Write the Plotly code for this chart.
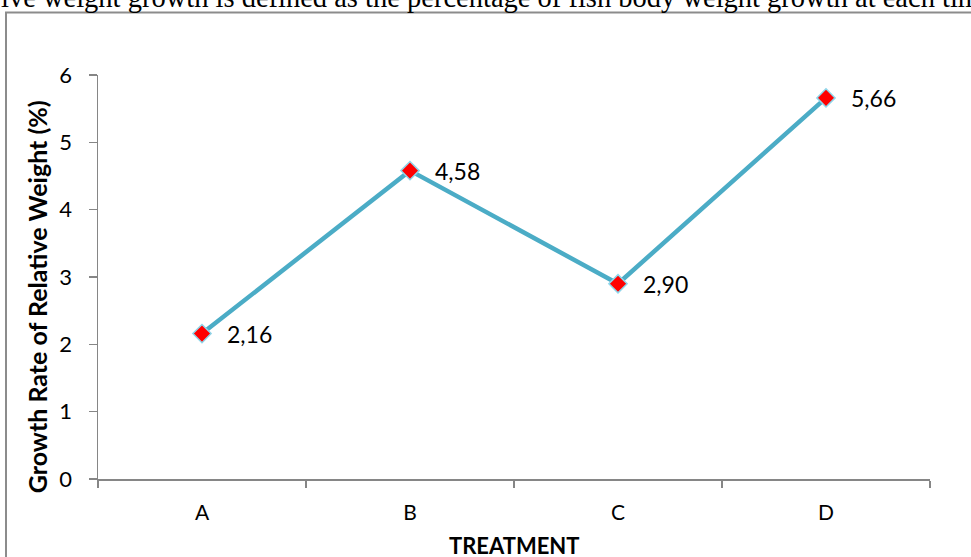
import plotly.graph_objects as go

categories = ["A", "B", "C", "D"]
values = [2.16, 4.58, 2.90, 5.66]
value_labels = ["2,16", "4,58", "2,90", "5,66"]
y_ticks = [0, 1, 2, 3, 4, 5, 6]

W, H = 971, 557
L, R, T, B = 98, 41, 74.5, 78
pw, ph = W - L - R, H - T - B

FONT = "Lato, Open Sans, sans-serif"

fig = go.Figure()
fig.add_trace(go.Scatter(
    x=categories, y=values, mode="lines+markers",
    line=dict(color="#4BACC6", width=4.5),
    marker=dict(symbol="diamond", size=14, color="#FF0000",
                line=dict(color="#8FD6EA", width=1.5)),
    cliponaxis=False, showlegend=False, hoverinfo="skip",
))

for c, v, t in zip(categories, values, value_labels):
    fig.add_annotation(x=c, y=v, text=t, xanchor="left", yanchor="middle",
                       xshift=23, showarrow=False,
                       font=dict(family=FONT, size=23, color="#000"))

def px_x(p):
    return (p - L) / pw

def px_y(p):
    return (H - B - p) / ph

fig.add_shape(type="rect", xref="paper", yref="paper",
              x0=px_x(6), x1=px_x(1100), y0=px_y(700), y1=px_y(12),
              line=dict(color="#8C8C8C", width=2), layer="below")

fig.add_annotation(
    text="ive weight growth is defined as the percentage of fish body weight growth at each time",
    xref="paper", yref="paper", x=px_x(-1), y=px_y(14), xanchor="left", yanchor="bottom",
    showarrow=False, font=dict(family="Liberation Serif, Times New Roman, serif", size=28.5, color="#000"),
)

# axis titles
fig.add_annotation(
    text="<b>Growth Rate of Relative Weight (%)</b>", textangle=-90,
    xref="paper", yref="paper", x=px_x(37), y=px_y(297), xanchor="center", yanchor="middle",
    showarrow=False, font=dict(family=FONT, size=25, color="#000"),
)
fig.add_annotation(
    text="<b>TREATMENT</b>",
    xref="paper", yref="paper", x=px_x(514), y=px_y(546), xanchor="center", yanchor="middle",
    showarrow=False, font=dict(family=FONT, size=22, color="#000"),
)

fig.update_layout(
    width=W, height=H,
    margin=dict(l=L, r=R, t=T, b=B),
    paper_bgcolor="white", plot_bgcolor="white",
    font=dict(family=FONT, size=22, color="#000"),
    xaxis=dict(
        type="category", range=[-0.5, 3.5], tickson="boundaries",
        ticks="outside", ticklen=7, tickcolor="#868686", tickwidth=1.5,
        showline=True, linecolor="#868686", linewidth=1.5,
        showgrid=False, zeroline=False, ticklabelstandoff=14,
        automargin=False, tickfont=dict(size=21),
    ),
    yaxis=dict(
        range=[0, 6], tickvals=y_ticks,
        ticks="outside", ticklen=8, tickcolor="#868686", tickwidth=1.5,
        showline=True, linecolor="#868686", linewidth=1.5,
        showgrid=False, zeroline=False, ticklabelstandoff=12,
        automargin=False, tickfont=dict(size=22),
    ),
)

fig.write_html("out.html", config={"displayModeBar": False, "staticPlot": True},
               post_script="document.body.style.margin='0';")
